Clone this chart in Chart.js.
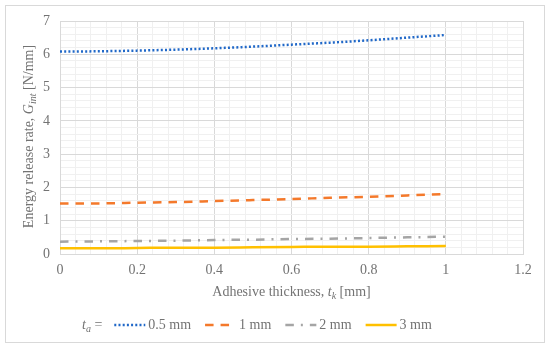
<!DOCTYPE html>
<html>
<head>
<meta charset="utf-8">
<script src="https://cdn.jsdelivr.net/npm/chart.js@4/dist/chart.umd.min.js"></script>
<style>
  html, body { margin: 0; padding: 0; background: #fff; }
  #wrap { width: 550px; height: 351px; }
</style>
</head>
<body>
<div id="wrap"><canvas id="chart" width="550" height="351"></canvas></div>
<script>
// 接着層厚さ t_k [mm]
const thickness = [0, 0.1, 0.2, 0.3, 0.4, 0.5, 0.6, 0.7, 0.8, 0.9, 1.0];

// G_int [N/mm]（t_a ごと）
const g05 = [6.08, 6.09, 6.11, 6.14, 6.18, 6.23, 6.29, 6.35, 6.42, 6.50, 6.58];
const g1  = [1.52, 1.52, 1.54, 1.56, 1.59, 1.62, 1.65, 1.69, 1.72, 1.76, 1.80];
const g2  = [0.37, 0.38, 0.39, 0.40, 0.42, 0.43, 0.45, 0.46, 0.48, 0.50, 0.52];
const g3  = [0.17, 0.17, 0.18, 0.19, 0.19, 0.20, 0.21, 0.22, 0.22, 0.23, 0.24];

const seriesLabels = ["0.5 mm", "1 mm", "2 mm", "3 mm"];
const xTickLabels = ["0", "0.2", "0.4", "0.6", "0.8", "1", "1.2"];
const yTickLabels = ["0", "1", "2", "3", "4", "5", "6", "7"];

const TEXT = "#737373";
const SERIF = '"Liberation Serif", "Times New Roman", serif';
const MAJOR = "#d9d9d9";
const MINOR = "#f0f0f0";

function pts(ys) {
  return thickness.map((x, i) => ({ x, y: ys[i] }));
}

// 斜体・下付きを含むテキストを順に描く
function drawRuns(ctx, runs, x, y, align) {
  const fontOf = r => (r.italic ? "italic " : "") + (r.sub ? "10px " : "14px ") + SERIF;
  let total = 0;
  runs.forEach(r => { ctx.font = fontOf(r); total += ctx.measureText(r.text).width; });
  let cx = align === "center" ? x - total / 2 : x;
  ctx.textAlign = "left";
  ctx.textBaseline = "middle";
  runs.forEach(r => {
    ctx.font = fontOf(r);
    ctx.fillText(r.text, cx, r.sub ? y + 4 : y);
    cx += ctx.measureText(r.text).width;
  });
  return cx;
}

const decorPlugin = {
  id: "decor",
  beforeDraw(chart) {
    const ctx = chart.ctx;
    ctx.save();
    ctx.fillStyle = "#fff";
    ctx.fillRect(0, 0, chart.width, chart.height);
    ctx.strokeStyle = "#d9d9d9";
    ctx.lineWidth = 1;
    ctx.strokeRect(5.5, 5.5, 539, 337);
    ctx.restore();
  },
  afterDraw(chart) {
    const ctx = chart.ctx;
    const area = chart.chartArea;
    ctx.save();
    ctx.fillStyle = TEXT;

    // x 軸タイトル
    drawRuns(ctx, [
      { text: "Adhesive thickness, " },
      { text: "t", italic: true },
      { text: "k", italic: true, sub: true },
      { text: " [mm]" },
    ], (area.left + area.right) / 2, 292, "center");

    // y 軸タイトル（プロット領域の中央）
    ctx.save();
    ctx.translate(29, (area.top + area.bottom) / 2 - 1);
    ctx.rotate(-Math.PI / 2);
    drawRuns(ctx, [
      { text: "Energy release rate, " },
      { text: "G", italic: true },
      { text: "int", italic: true, sub: true },
      { text: " [N/mm]" },
    ], 0, 0, "center");
    ctx.restore();

    // 凡例
    const ly = 325;
    let x = drawRuns(ctx, [
      { text: "t", italic: true },
      { text: "a", italic: true, sub: true },
      { text: " =" },
    ], 82, ly, "left");
    x += 12;
    chart.data.datasets.forEach(ds => {
      ctx.save();
      ctx.strokeStyle = ds.borderColor;
      ctx.lineWidth = ds.borderWidth;
      ctx.setLineDash(ds.borderDash || []);
      ctx.beginPath();
      ctx.moveTo(x, ly);
      ctx.lineTo(x + 31, ly);
      ctx.stroke();
      ctx.restore();
      x += 34;
      ctx.fillStyle = TEXT;
      x = drawRuns(ctx, [{ text: ds.label }], x, ly, "left");
      x += 14;
    });
    ctx.restore();
  },
};

new Chart(document.getElementById("chart"), {
  type: "line",
  data: {
    datasets: [
      { label: seriesLabels[0], data: pts(g05), borderColor: "#2068c8", borderWidth: 2.5, borderDash: [2, 2.2] },
      { label: seriesLabels[1], data: pts(g1),  borderColor: "#f4792b", borderWidth: 2.5, borderDash: [8.5, 7] },
      { label: seriesLabels[2], data: pts(g2),  borderColor: "#a5a5a5", borderWidth: 2.5, borderDash: [8.5, 7, 2, 7] },
      { label: seriesLabels[3], data: pts(g3),  borderColor: "#ffc000", borderWidth: 2.5 },
    ],
  },
  options: {
    responsive: false,
    animation: false,
    layout: { padding: { top: 21, right: 27, left: 0, bottom: 0 } },
    elements: {
      point: { radius: 0 },
      line: { cubicInterpolationMode: "monotone", fill: false },
    },
    plugins: {
      legend: { display: false },
      tooltip: { enabled: false },
    },
    scales: {
      x: {
        type: "linear",
        min: 0,
        max: 1.2,
        afterBuildTicks: s => { s.ticks = Array.from({ length: 31 }, (_, i) => ({ value: i * 0.04 })); },
        afterFit: s => { s.height = 97; },
        ticks: {
          autoSkip: false,
          maxRotation: 0,
          padding: 8,
          color: TEXT,
          font: { family: SERIF, size: 14 },
          callback: (v, i) => (i % 5 === 0 ? xTickLabels[i / 5] : ""),
        },
        grid: {
          drawTicks: false,
          color: c => (c.index % 5 === 0 ? MAJOR : MINOR),
        },
        border: { color: MAJOR },
      },
      y: {
        min: 0,
        max: 7,
        afterBuildTicks: s => { s.ticks = Array.from({ length: 36 }, (_, i) => ({ value: i * 0.2 })); },
        afterFit: s => { s.width = 60; },
        ticks: {
          autoSkip: false,
          padding: 10,
          color: TEXT,
          font: { family: SERIF, size: 14 },
          callback: (v, i) => (i % 5 === 0 ? yTickLabels[i / 5] : ""),
        },
        grid: {
          drawTicks: false,
          color: c => (c.index % 5 === 0 ? MAJOR : MINOR),
        },
        border: { color: MAJOR },
      },
    },
  },
  plugins: [decorPlugin],
});
</script>
</body>
</html>
